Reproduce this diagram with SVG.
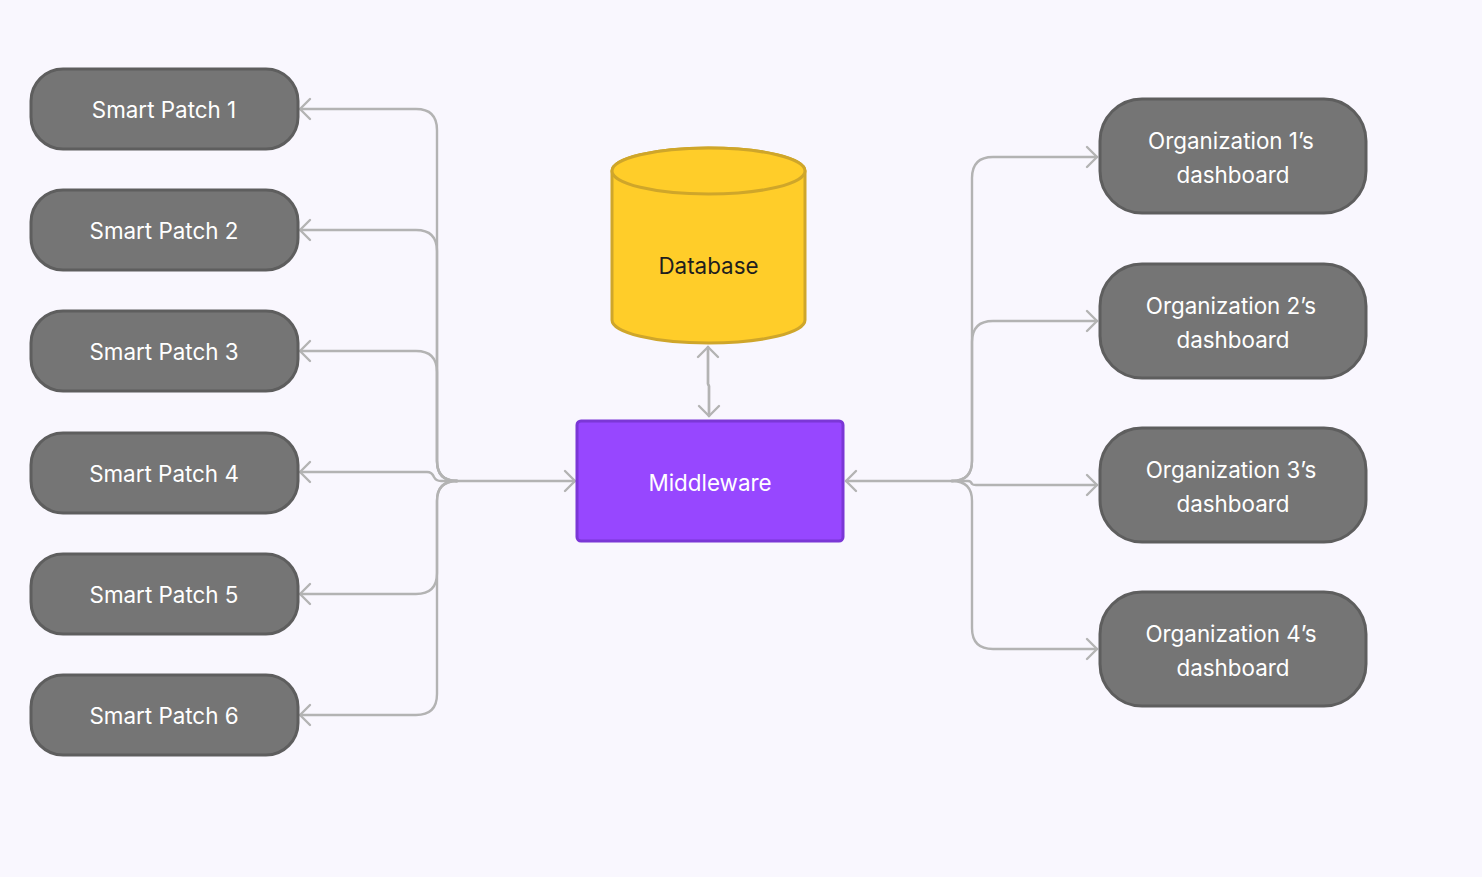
<svg xmlns="http://www.w3.org/2000/svg" width="1482" height="877" viewBox="0 0 1482 877">
<style>
.bg{fill:#F9F7FE}
.node rect{fill:#757575;stroke:#5E5E5E;stroke-width:3}
.node text{fill:#FFFFFF;font-family:Inter,"Liberation Sans",sans-serif;font-size:22.4px;text-anchor:middle;dominant-baseline:central}
.conn path{fill:none;stroke:#B3B3B3;stroke-width:2.4;stroke-linecap:round;stroke-linejoin:round}
.db{fill:#FFCD29;stroke:#CFA62A;stroke-width:3}
.dbt{fill:#1E1E1E;font-family:Inter,"Liberation Sans",sans-serif;font-size:22.4px;text-anchor:middle;dominant-baseline:central}
.mw{fill:#9747FF;stroke:#7B37D6;stroke-width:3}
</style>
<defs>
<marker id="arr" viewBox="0 -12 14 24" refX="12" refY="0" markerWidth="14" markerHeight="24" markerUnits="userSpaceOnUse" orient="auto">
<path d="M2 -10 L12 0 L2 10" fill="none" stroke="#B3B3B3" stroke-width="2.4" stroke-linecap="round" stroke-linejoin="round"/>
</marker>
</defs>
<rect class="bg" x="0" y="0" width="1482" height="877"/>

<g id="connectors" class="conn">
<path d="M457 481 L575 481" marker-end="url(#arr)"/>
<path d="M457 481 Q437 481 437 461 L437 130 Q437 109 416 109 L300 109" marker-end="url(#arr)"/>
<path d="M457 481 Q437 481 437 461 L437 251 Q437 230 416 230 L300 230" marker-end="url(#arr)"/>
<path d="M457 481 Q437 481 437 461 L437 372 Q437 351 416 351 L300 351" marker-end="url(#arr)"/>
<path d="M457 481 L441 481 Q436 481 434 477 Q432 472 427 472 L300 472" marker-end="url(#arr)"/>
<path d="M457 481 Q437 481 437 501 L437 573 Q437 594 416 594 L300 594" marker-end="url(#arr)"/>
<path d="M457 481 Q437 481 437 501 L437 694 Q437 715 416 715 L300 715" marker-end="url(#arr)"/>

<path d="M952 481 L846 481" marker-end="url(#arr)"/>
<path d="M952 481 Q972 481 972 461 L972 178 Q972 157 993 157 L1097 157" marker-end="url(#arr)"/>
<path d="M952 481 Q972 481 972 461 L972 342 Q972 321 993 321 L1097 321" marker-end="url(#arr)"/>
<path d="M952 481 L968 481 Q971 481 972 484 Q973 485 976 485 L1097 485" marker-end="url(#arr)"/>
<path d="M952 481 Q972 481 972 501 L972 628 Q972 649 993 649 L1097 649" marker-end="url(#arr)"/>

<path d="M709 416 L709 386 L708 384 L708 347" marker-end="url(#arr)"/>
<path d="M708 347 L708 384 L709 386 L709 416" marker-end="url(#arr)"/>
</g>

<g id="patch1" class="node"><rect x="31" y="69" width="267" height="80" rx="32"/><text x="164" y="109">Smart Patch 1</text></g>
<g id="patch2" class="node"><rect x="31" y="190" width="267" height="80" rx="32"/><text x="164" y="230">Smart Patch 2</text></g>
<g id="patch3" class="node"><rect x="31" y="311" width="267" height="80" rx="32"/><text x="164" y="351">Smart Patch 3</text></g>
<g id="patch4" class="node"><rect x="31" y="433" width="267" height="80" rx="32"/><text x="164" y="473">Smart Patch 4</text></g>
<g id="patch5" class="node"><rect x="31" y="554" width="267" height="80" rx="32"/><text x="164" y="594">Smart Patch 5</text></g>
<g id="patch6" class="node"><rect x="31" y="675" width="267" height="80" rx="32"/><text x="164" y="715">Smart Patch 6</text></g>

<g id="database">
<path class="db" d="M612 171 L612 320 A96.5 23 0 0 0 805 320 L805 171 A96.5 23 0 0 0 612 171 Z"/>
<ellipse class="db" cx="708.5" cy="171" rx="96.5" ry="23"/>
<text class="dbt" x="708.5" y="265">Database</text>
</g>

<g id="middleware">
<rect class="mw" x="577" y="421" width="266" height="120" rx="4"/>
<text x="710" y="482" fill="#FFFFFF" font-family="Inter,'Liberation Sans',sans-serif" font-size="22.4" text-anchor="middle" dominant-baseline="central">Middleware</text>
</g>

<g id="org1" class="node"><rect x="1100" y="99" width="266" height="114" rx="42"/><text x="1231" y="140">Organization 1’s</text><text x="1233" y="174">dashboard</text></g>
<g id="org2" class="node"><rect x="1100" y="264" width="266" height="114" rx="42"/><text x="1231" y="305">Organization 2’s</text><text x="1233" y="339">dashboard</text></g>
<g id="org3" class="node"><rect x="1100" y="428" width="266" height="114" rx="42"/><text x="1231" y="469">Organization 3’s</text><text x="1233" y="503">dashboard</text></g>
<g id="org4" class="node"><rect x="1100" y="592" width="266" height="114" rx="42"/><text x="1231" y="633">Organization 4’s</text><text x="1233" y="667">dashboard</text></g>
</svg>
